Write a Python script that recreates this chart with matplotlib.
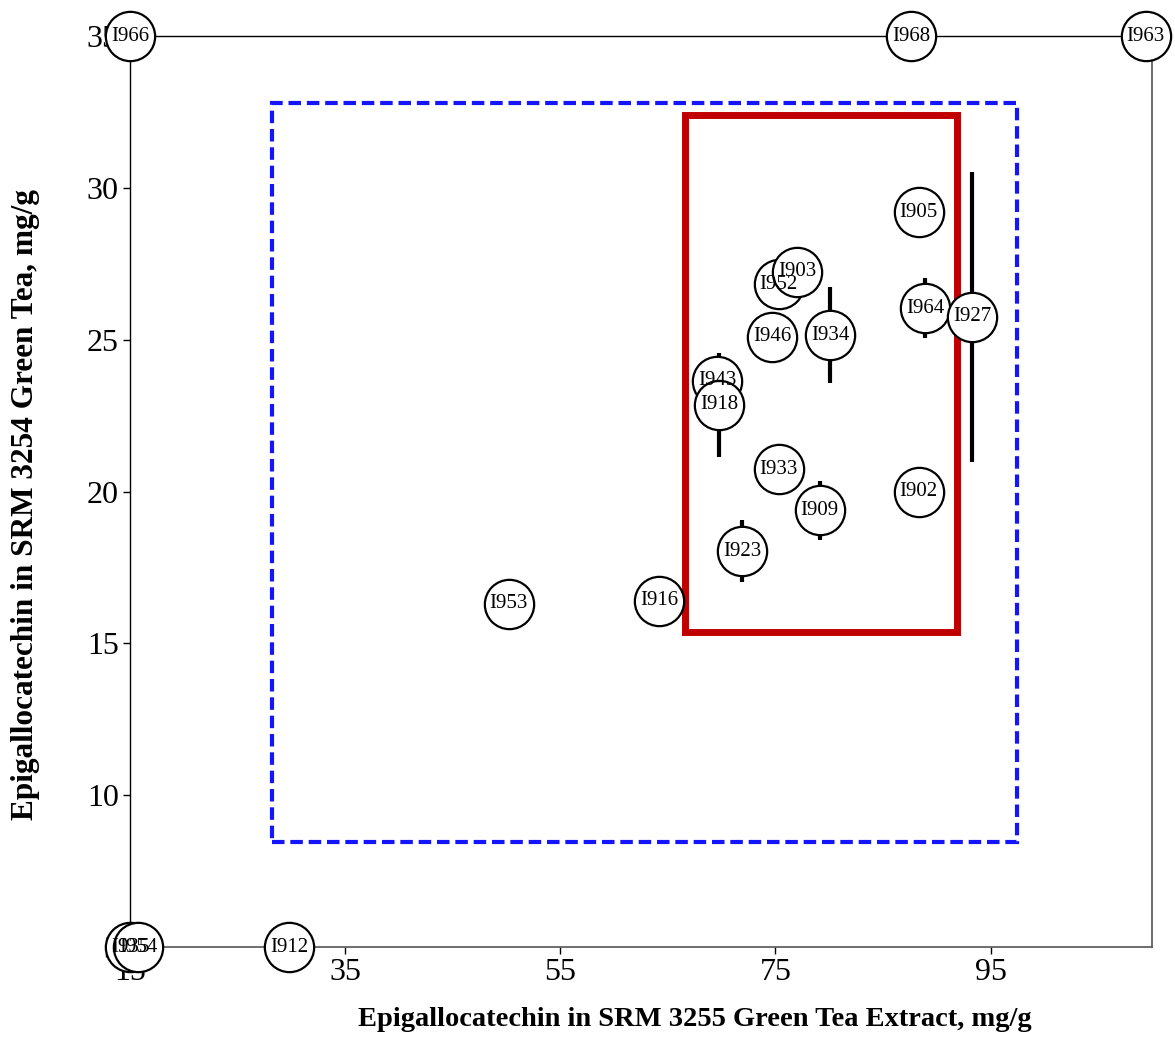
import matplotlib
matplotlib.use("Agg")
import matplotlib.pyplot as plt
from matplotlib.patches import Rectangle

# Laboratory results: epigallocatechin in the extract (x) vs the tea (y), mg/g
labs = ["I966", "I968", "I963", "I912", "I935", "I954", "I953", "I916",
        "I923", "I909", "I933", "I902", "I946", "I934", "I943", "I918",
        "I952", "I903", "I905", "I964", "I927"]
x_vals = [15.0, 87.6, 109.4, 29.8, 15.0, 15.75, 50.2, 64.2,
          71.9, 79.1, 75.3, 88.3, 74.7, 80.1, 69.6, 69.8,
          75.3, 77.0, 88.3, 88.9, 93.3]
y_vals = [35.0, 35.0, 35.0, 5.0, 5.0, 5.0, 16.3, 16.4,
          18.04, 19.38, 20.74, 20.0, 25.09, 25.14, 23.64, 22.85,
          26.83, 27.23, 29.2, 26.04, 25.75]
y_err = [0, 0, 0, 0, 0, 0, 0, 0,
         1.02, 0.97, 0, 0, 0, 1.58, 0, 1.71,
         0, 0, 0, 1.0, 4.77]

# Tolerance regions
outer_x = (28.2, 97.5)
outer_y = (8.46, 32.8)
inner_x = (66.6, 91.9)
inner_y = (15.38, 32.4)

x_ticks = [15, 35, 55, 75, 95]
y_ticks = [5, 10, 15, 20, 25, 30, 35]

serif = "Liberation Serif"

fig = plt.figure(figsize=(11.75, 10.44), dpi=100)
ax = fig.add_axes([0.1106, 0.0929, 0.8698, 0.8726])
ax.set_xlim(15, 110)
ax.set_ylim(5, 35)

for side in ["left", "top"]:
    ax.spines[side].set_color("black")
    ax.spines[side].set_linewidth(1.0)
for side in ["right", "bottom"]:
    ax.spines[side].set_color("#555555")
    ax.spines[side].set_linewidth(1.2)

ax.set_xticks(x_ticks)
ax.set_yticks(y_ticks)
ax.tick_params(direction="out", length=5, width=1, labelsize=23, pad=3)
for lbl in ax.get_xticklabels() + ax.get_yticklabels():
    lbl.set_fontfamily(serif)

ax.set_xlabel("Epigallocatechin in SRM 3255 Green Tea Extract, mg/g",
              fontfamily=serif, fontweight="bold", fontsize=20.5)
ax.set_ylabel("Epigallocatechin in SRM 3254 Green Tea, mg/g",
              fontfamily=serif, fontweight="bold", fontsize=22.5)
ax.xaxis.set_label_coords(0.553, -0.066)
ax.yaxis.set_label_coords(-0.088, 0.486)

ax.add_patch(Rectangle((outer_x[0], outer_y[0]), outer_x[1] - outer_x[0],
                       outer_y[1] - outer_y[0], fill=False, edgecolor="#1414ff",
                       linewidth=3, linestyle=(0, (3, 1.4)), zorder=2))
ax.add_patch(Rectangle((inner_x[0], inner_y[0]), inner_x[1] - inner_x[0],
                       inner_y[1] - inner_y[0], fill=False, edgecolor="#c00000",
                       linewidth=5, zorder=3, joinstyle="miter"))

# error bars, then the circles, then every label on top
for xv, yv, e in zip(x_vals, y_vals, y_err):
    if e > 0:
        ax.plot([xv, xv], [yv - e, yv + e], color="black", linewidth=3,
                solid_capstyle="butt", zorder=4)

for i, (xv, yv) in enumerate(zip(x_vals, y_vals)):
    ax.plot([xv], [yv], marker="o", markersize=35.5, markerfacecolor="white",
            markeredgecolor="black", markeredgewidth=1.6, clip_on=False,
            linestyle="none", zorder=10 + i)

for lab, xv, yv in zip(labs, x_vals, y_vals):
    ax.text(xv, yv, lab, ha="center", va="center", fontfamily=serif,
            fontsize=15, zorder=50, clip_on=False)

fig.savefig("out.png", dpi=100)
